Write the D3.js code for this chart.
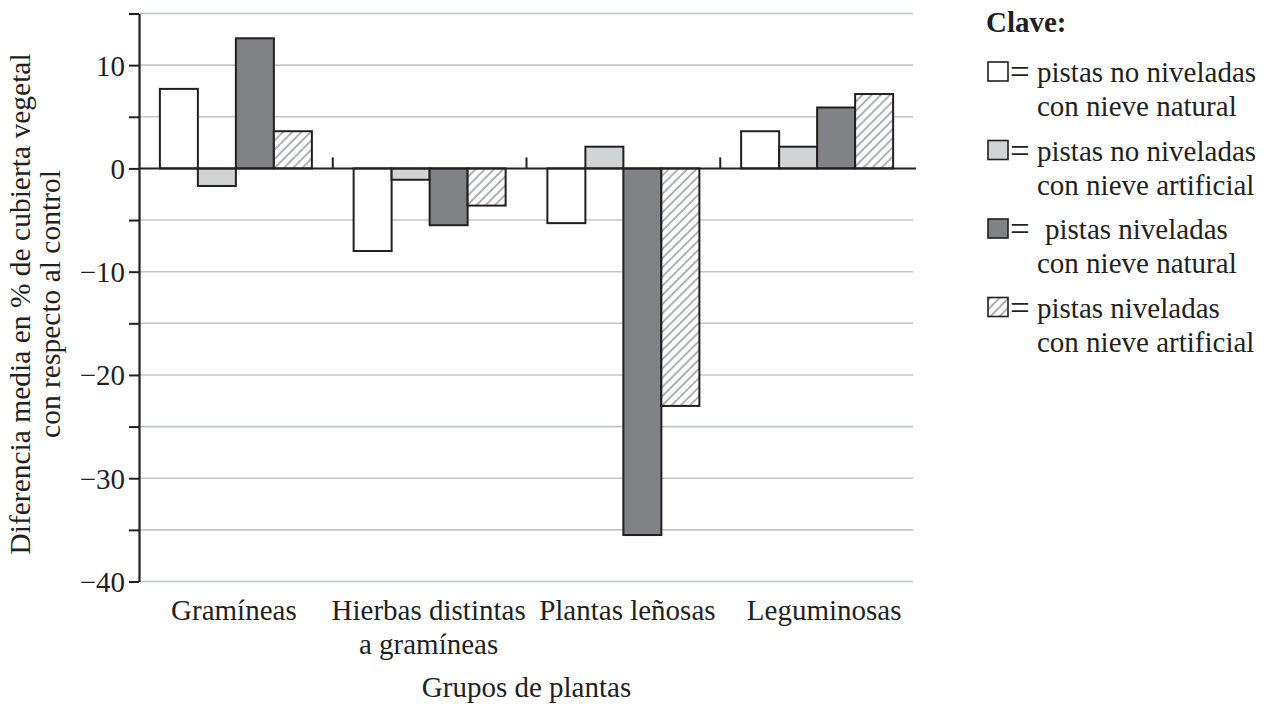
<!DOCTYPE html>
<html><head><meta charset="utf-8">
<script src="https://cdn.jsdelivr.net/npm/d3@7"></script>
<style>body{margin:0;background:#fff}svg{display:block}</style>
</head><body>
<svg id="c" width="1269" height="706"></svg>
<script>
// ---- data ----
const categories = ["Gramíneas", "Hierbas distintas a gramíneas", "Plantas leñosas", "Leguminosas"];
const categoryLabelLines = [["Gramíneas"], ["Hierbas distintas", "a gramíneas"], ["Plantas leñosas"], ["Leguminosas"]];
const seriesKeys = ["noNivNatural", "noNivArtificial", "nivNatural", "nivArtificial"];
const seriesLegend = [
  ["pistas no niveladas", "con nieve natural"],
  ["pistas no niveladas", "con nieve artificial"],
  ["pistas niveladas", "con nieve natural"],
  ["pistas niveladas", "con nieve artificial"]
];
const noNivNatural    = [7.7, -8.0, -5.3, 3.6];
const noNivArtificial = [-1.7, -1.1, 2.1, 2.1];
const nivNatural      = [12.6, -5.5, -35.5, 5.9];
const nivArtificial   = [3.6, -3.6, -23.0, 7.2];
const yTickValues = [-40, -35, -30, -25, -20, -15, -10, -5, 0, 5, 10, 15];
const yDomain = [-40, 15];
const yTitleLines = ["Diferencia media en % de cubierta vegetal", "con respecto al control"];
const xTitle = "Grupos de plantas";
const legendTitle = "Clave:";

// ---- layout / style ----
const seriesValues = {noNivNatural, noNivArtificial, nivNatural, nivArtificial};
const fills = ["#ffffff", "#d1d3d4", "#808285", "url(#hatch)"];
const labelShift = [-2, -1, 4, 7];
const INK = "#231f20";
const FONT = "'Liberation Serif','Times New Roman',serif";

const svg = d3.select("#c").style("font-family", FONT);
const defs = svg.append("defs");
const pat = defs.append("pattern").attr("id", "hatch").attr("patternUnits", "userSpaceOnUse")
  .attr("width", 6.5).attr("height", 6.5).attr("patternTransform", "rotate(45)");
pat.append("rect").attr("width", 6.5).attr("height", 6.5).attr("fill", "#fff");
pat.append("line").attr("x1", 1).attr("y1", 0).attr("x2", 1).attr("y2", 6.5)
  .attr("stroke", "#a7a9ac").attr("stroke-width", 1.8);

const plotL = 139, plotR = 914, plotT = 13.5, plotB = 581.5;
const y = d3.scaleLinear().domain(yDomain).range([plotB, plotT]);
const x0 = d3.scaleBand().domain(categories).range([plotL, plotR]).paddingInner(0.2155).paddingOuter(0.2155 / 2);
const x1 = d3.scaleBand().domain(seriesKeys).range([0, x0.bandwidth()]);

// gridlines
svg.append("g").selectAll("line").data(yTickValues.filter(d => d !== 0)).join("line")
  .attr("x1", plotL).attr("x2", plotR - 1).attr("y1", d => y(d)).attr("y2", d => y(d))
  .attr("stroke", "#c4c5c7").attr("stroke-width", 1.6);

// bars
const g = svg.append("g");
categories.forEach((c, i) => {
  seriesKeys.forEach((k, j) => {
    const v = seriesValues[k][i];
    g.append("rect")
      .attr("x", x0(c) + x1(k))
      .attr("y", y(Math.max(0, v)))
      .attr("width", x1.bandwidth())
      .attr("height", Math.abs(y(v) - y(0)))
      .attr("fill", fills[j]).attr("stroke", INK).attr("stroke-width", 2);
  });
});

// zero line
svg.append("line").attr("x1", plotL).attr("x2", plotR + 2).attr("y1", y(0)).attr("y2", y(0))
  .attr("stroke", INK).attr("stroke-width", 2);
// category separators
svg.append("g").selectAll("line").data(categories.slice(1)).join("line")
  .attr("x1", d => x0(d) - x0.step() * x0.paddingInner() / 2)
  .attr("x2", d => x0(d) - x0.step() * x0.paddingInner() / 2)
  .attr("y1", y(0)).attr("y2", y(0) - 11).attr("stroke", INK).attr("stroke-width", 2);

// y axis
const yAxis = d3.axisLeft(y).tickValues(yTickValues).tickSize(10).tickSizeOuter(0).tickPadding(4)
  .tickFormat(d => d % 10 === 0 ? d3.format("d")(d) : "");
const ya = svg.append("g").attr("transform", `translate(${plotL},0)`).call(yAxis).attr("font-family", FONT);
ya.select(".domain").attr("stroke", INK).attr("stroke-width", 2.2);
ya.selectAll(".tick line").attr("stroke", INK).attr("stroke-width", 2);
ya.selectAll(".tick text").attr("font-family", FONT).attr("font-size", 29).attr("fill", INK).attr("dy", "0.34em");

// x labels
categories.forEach((c, i) => {
  const cx = x0(c) + x0.bandwidth() / 2 + labelShift[i];
  categoryLabelLines[i].forEach((line, li) => {
    svg.append("text").attr("x", cx).attr("y", 620 + li * 34)
      .attr("text-anchor", "middle").attr("font-family", FONT).attr("font-size", 29).attr("fill", INK)
      .text(line);
  });
});
svg.append("text").attr("x", (plotL + plotR) / 2).attr("y", 697)
  .attr("text-anchor", "middle").attr("font-family", FONT).attr("font-size", 29).attr("fill", INK).text(xTitle);

// y title
yTitleLines.forEach((line, li) => {
  svg.append("text").attr("transform", `translate(${30 + li * 30},304) rotate(-90)`)
    .attr("text-anchor", "middle").attr("font-family", FONT).attr("font-size", 29.5).attr("fill", INK).text(line);
});

// legend
const lg = svg.append("g");
lg.append("text").attr("x", 986).attr("y", 32).attr("font-family", FONT).attr("font-size", 29)
  .attr("font-weight", "bold").attr("fill", INK).text(legendTitle);
seriesLegend.forEach((lines, j) => {
  const by = 82 + j * 78.5;
  lg.append("rect").attr("x", 988).attr("y", by - 20).attr("width", 20).attr("height", 19)
    .attr("fill", fills[j]).attr("stroke", INK).attr("stroke-width", 1.6);
  lg.append("text").attr("x", 1010).attr("y", by + 2).attr("font-family", FONT).attr("font-size", 35)
    .attr("fill", INK).text("=");
  lines.forEach((t, li) => {
    lg.append("text").attr("x", (j === 2 && li === 0) ? 1045 : 1037).attr("y", by + li * 34)
      .attr("font-family", FONT).attr("font-size", 29).attr("fill", INK).text(t);
  });
});
</script>
</body></html>
